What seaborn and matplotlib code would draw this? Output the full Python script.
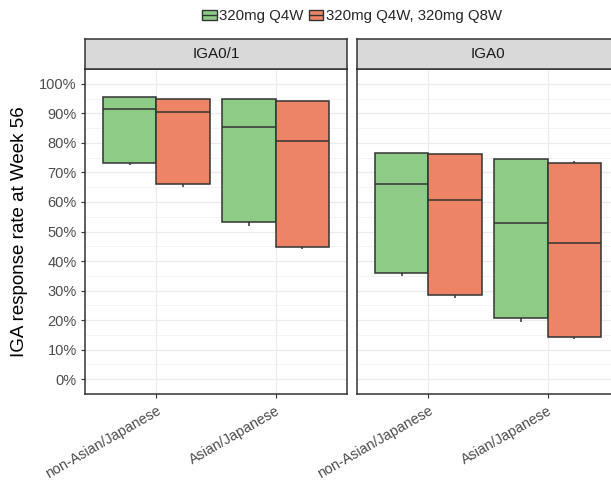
import matplotlib
matplotlib.use("Agg")
import matplotlib.pyplot as plt
import seaborn as sns
import pandas as pd
from matplotlib.patches import Patch
from matplotlib.lines import Line2D
from matplotlib.ticker import MultipleLocator, FuncFormatter

# ---- data (percent) ----
panels = ["IGA0/1", "IGA0"]
groups = ["non-Asian/Japanese", "Asian/Japanese"]
doses = ["320mg Q4W", "320mg Q4W, 320mg Q8W"]
colors = ["#8DCB87", "#EE8466"]

# order: panel -> group -> dose
whis_lo = [72.6, 64.9, 51.7, 44.1, 35.1, 27.6, 19.4, 13.5]
q1      = [73.3, 66.1, 53.2, 44.9, 35.9, 28.4, 20.7, 14.2]
median  = [91.4, 90.3, 85.5, 80.8, 66.1, 60.7, 53.0, 46.1]
q3      = [95.5, 94.8, 94.8, 94.2, 76.5, 76.1, 74.7, 73.1]
whis_hi = [95.5, 94.8, 94.8, 94.2, 76.5, 76.1, 74.7, 73.7]

y_ticks = [0, 10, 20, 30, 40, 50, 60, 70, 80, 90, 100]

rows = []
i = 0
for p in panels:
    for g in groups:
        for d in doses:
            for v in (whis_lo[i], q1[i], median[i], q3[i], whis_hi[i]):
                rows.append({"panel": p, "group": g, "dose": d, "value": v})
            i += 1
df = pd.DataFrame(rows)

sns.set_theme(style="white")
plt.rcParams["font.family"] = ["Liberation Sans", "DejaVu Sans"]

W, H = 611, 483
fig = plt.figure(figsize=(W / 100, H / 100), dpi=100)

def fx(px):
    return px / W

def fy(py):
    return 1 - py / H

panel_x = [85, 357]
pw = 262
top, bottom, strip_top = 69, 394, 39

edge = "#333333"
for k, p in enumerate(panels):
    ax = fig.add_axes([fx(panel_x[k]), fy(bottom), pw / W, (bottom - top) / H])
    sub = df[df["panel"] == p]
    sns.boxplot(data=sub, x="group", y="value", hue="dose", order=groups,
                hue_order=doses, palette=colors, width=0.9, gap=0,
                linecolor=edge, linewidth=1.1, showcaps=False, fliersize=0,
                saturation=1, whis=1.5, ax=ax, legend=False, zorder=3)
    ax.set_xlim(-0.6, 1.6)
    ax.set_ylim(-5, 105)
    ax.set_yticks(y_ticks)
    ax.yaxis.set_minor_locator(MultipleLocator(5))
    ax.yaxis.set_major_formatter(FuncFormatter(lambda v, pos: f"{v:.0f}%"))
    ax.grid(True, which="major", color="#EBEBEB", lw=0.9, zorder=0)
    ax.grid(True, which="minor", axis="y", color="#F2F2F2", lw=0.6, zorder=0)
    ax.set_axisbelow(True)
    for s in ax.spines.values():
        s.set_color(edge)
        s.set_linewidth(1.1)
    ax.set_xlabel("")
    ax.tick_params(axis="x", which="major", length=3, width=0.8, color=edge,
                   labelsize=10.3, labelcolor="#4D4D4D", pad=4, bottom=True)
    ax.tick_params(axis="y", which="minor", length=0)
    for lab in ax.get_xticklabels():
        lab.set_rotation(30)
        lab.set_ha("right")
        lab.set_rotation_mode("anchor")
    if k == 0:
        ax.tick_params(axis="y", which="major", length=3, width=0.8, color=edge,
                       labelsize=10.5, labelcolor="#4D4D4D", pad=3, left=True)
        ax.set_ylabel("IGA response rate at Week 56", fontsize=13.5,
                      color="black", labelpad=8)
    else:
        ax.tick_params(axis="y", which="major", length=0, labelleft=False)
        ax.set_ylabel("")

    sax = fig.add_axes([fx(panel_x[k]), fy(top), pw / W, (top - strip_top) / H])
    sax.set_facecolor("#D9D9D9")
    sax.set_xticks([])
    sax.set_yticks([])
    for s in sax.spines.values():
        s.set_color(edge)
        s.set_linewidth(1.1)
    sax.text(0.5, 0.5, p, ha="center", va="center", fontsize=11,
             color="#1A1A1A", transform=sax.transAxes)

handles = [(Patch(facecolor=c, edgecolor=edge, lw=1.0),
            Line2D([], [], color=edge, lw=1.0)) for c in colors]
fig.legend(handles, doses, loc="center", bbox_to_anchor=(fx(352), fy(16)),
           ncol=2, frameon=False, fontsize=10.8, handlelength=0.95,
           handleheight=0.65, handletextpad=0.15, columnspacing=0.4,
           borderpad=0)

fig.savefig("out.png", dpi=100)
